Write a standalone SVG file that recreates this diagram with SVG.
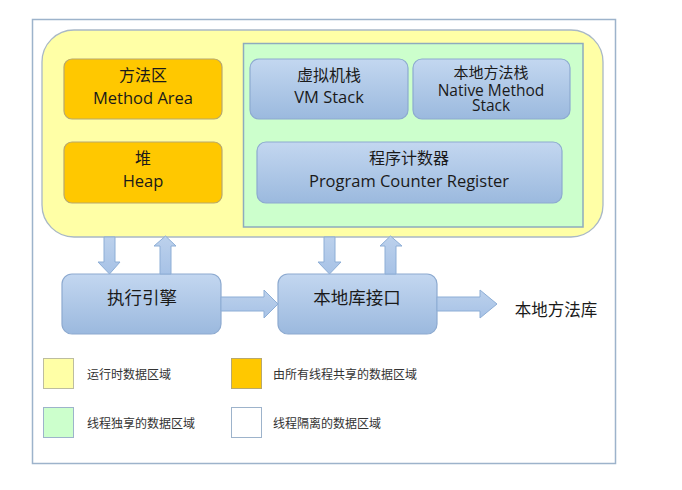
<svg xmlns="http://www.w3.org/2000/svg" width="682" height="490" viewBox="0 0 682 490">
<defs>
<linearGradient id="blueG" x1="0" y1="0" x2="0" y2="1">
<stop offset="0" stop-color="#C3D7F0"/>
<stop offset="1" stop-color="#9BB9DE"/>
</linearGradient>
<linearGradient id="arrG" x1="0" y1="0" x2="0" y2="1">
<stop offset="0" stop-color="#BCD1EC"/>
<stop offset="1" stop-color="#A7C2E6"/>
</linearGradient>
<style>
.t{font-family:"Open Sans","Noto Sans CJK SC",sans-serif;fill:#1a1a1a;text-anchor:middle}
.big{font-size:16.5px}
.cj{font-size:16px}
.lg{font-family:"Noto Sans CJK SC",sans-serif;font-size:12px;fill:#333}
.blue{fill:url(#blueG);stroke:#8DAAD0;stroke-width:1.2}
.orange{fill:#FFC800;stroke:#B7A86E;stroke-width:1.2}
.arr{fill:url(#arrG);stroke:#8DAED6;stroke-width:1}
</style>
</defs>
<rect x="0" y="0" width="682" height="490" fill="#fff"/>
<rect x="32.5" y="19.5" width="583" height="444" fill="#fff" stroke="#9DB3CB" stroke-width="1.5"/>

<g id="runtime-area">
<rect x="42" y="30" width="561" height="207" rx="32" fill="#FFFFA6" stroke="#A9B8C6" stroke-width="1.3"/>
</g>
<g id="thread-private-area">
<rect x="243.5" y="43.5" width="339.5" height="183.5" fill="#CCFFCC" stroke="#8EABBE" stroke-width="1.5"/>
</g>

<g id="method-area">
<rect class="orange" x="64" y="59" width="158" height="60" rx="8"/>
<text class="t cj" x="143" y="81">方法区</text>
<text class="t big" x="143" y="104">Method Area</text>
</g>
<g id="heap">
<rect class="orange" x="64" y="142" width="158" height="61" rx="8"/>
<text class="t cj" x="143" y="164">堆</text>
<text class="t big" x="143" y="187">Heap</text>
</g>
<g id="vm-stack">
<rect class="blue" x="250" y="59" width="158" height="60" rx="9"/>
<text class="t cj" x="329" y="81">虚拟机栈</text>
<text class="t big" x="329" y="103">VM Stack</text>
</g>
<g id="native-method-stack">
<rect class="blue" x="413" y="59" width="157" height="60" rx="9"/>
<text class="t" x="491" y="78" font-size="15">本地方法栈</text>
<text class="t" x="491" y="96" font-size="15.5">Native Method</text>
<text class="t" x="491" y="111" font-size="15.5">Stack</text>
</g>
<g id="program-counter-register">
<rect class="blue" x="257" y="142" width="305" height="61" rx="9"/>
<text class="t cj" x="409" y="164">程序计数器</text>
<text class="t big" x="409" y="187">Program Counter Register</text>
</g>

<g id="execution-engine">
<rect class="blue" x="62" y="274" width="159" height="60" rx="10"/>
<text class="t" x="142" y="304" font-size="17.5">执行引擎</text>
</g>
<g id="native-interface">
<rect class="blue" x="278" y="274" width="159" height="60" rx="10"/>
<text class="t" x="357" y="304" font-size="17.5">本地库接口</text>
</g>
<g id="native-library">
<text class="t" x="556" y="316" font-size="16.5">本地方法库</text>
</g>

<g id="connectors">
<polygon class="arr" points="104,237 115,237 115,262 120,262 109.5,274 98,262 104,262"/>
<polygon class="arr" points="160,274 171,274 171,246 176,246 165.5,236 154,246 160,246"/>
<polygon class="arr" points="324,237 335,237 335,262 341,262 329.5,274 318,262 324,262"/>
<polygon class="arr" points="385,274 396,274 396,246 402,246 390.5,236 380,246 385,246"/>
<polygon class="arr" points="221,297 264,297 264,290 278,304 264,318 264,311 221,311"/>
<polygon class="arr" points="437,297 480,297 480,290 497,304 480,318 480,311 437,311"/>
</g>

<g id="legend">
<rect x="43.5" y="358.5" width="30" height="30" fill="#FFFFA6" stroke="#BDBDA0" stroke-width="1"/>
<text class="lg" x="87" y="379">运行时数据区域</text>
<rect x="231.5" y="358.5" width="30" height="30" fill="#FFC800" stroke="#B7A86E" stroke-width="1"/>
<text class="lg" x="273" y="379">由所有线程共享的数据区域</text>
<rect x="43.5" y="407.5" width="30" height="30" fill="#CCFFCC" stroke="#9DB3CB" stroke-width="1"/>
<text class="lg" x="87" y="428">线程独享的数据区域</text>
<rect x="231.5" y="407.5" width="30" height="30" fill="#fff" stroke="#9DB3CB" stroke-width="1"/>
<text class="lg" x="273" y="428">线程隔离的数据区域</text>
</g>
</svg>
